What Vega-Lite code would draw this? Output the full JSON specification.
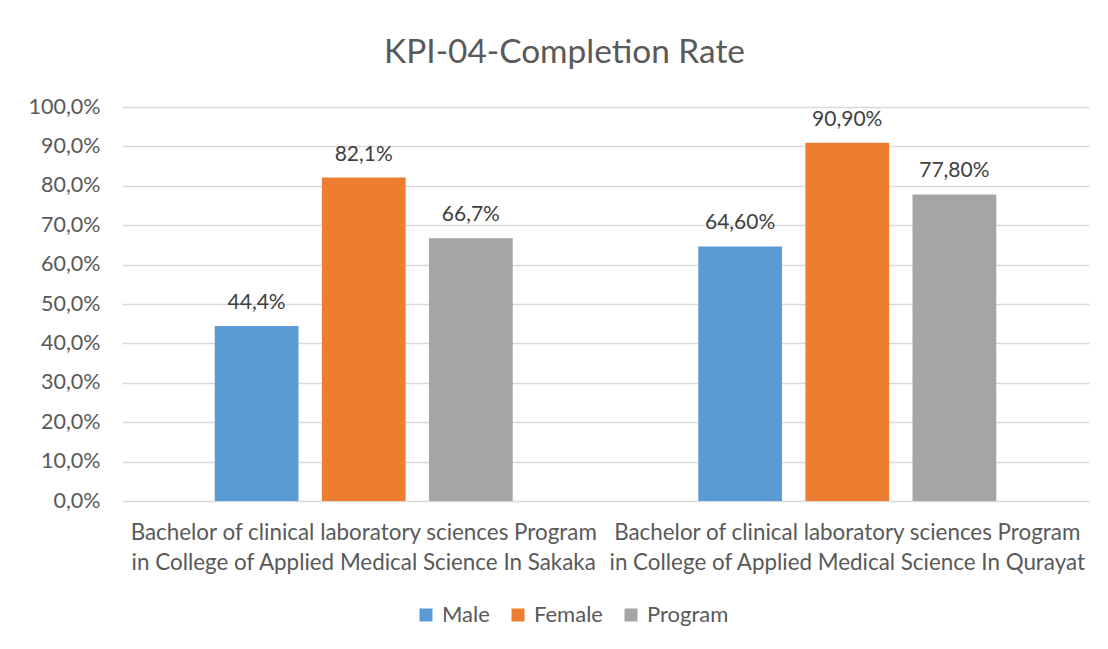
{
  "$schema": "https://vega.github.io/schema/vega-lite/v6.json",
  "width": 967,
  "height": 394,
  "autosize": {"type": "none"},
  "padding": {"left": 122, "top": 107, "right": 19, "bottom": 148},
  "background": "white",
  "title": {
    "text": "KPI-04-Completion Rate",
    "font": "Lato",
    "fontSize": 33.4,
    "fontWeight": "normal",
    "color": "#595959",
    "anchor": "middle",
    "dx": -41,
    "baseline": "alphabetic",
    "offset": 0
  },
  "data": {
    "values": [
      {"program": "Bachelor of clinical laboratory sciences Program in College of Applied Medical Science In Sakaka", "series": "Male", "value": 0.444, "label": "44,4%"},
      {"program": "Bachelor of clinical laboratory sciences Program in College of Applied Medical Science In Sakaka", "series": "Female", "value": 0.821, "label": "82,1%"},
      {"program": "Bachelor of clinical laboratory sciences Program in College of Applied Medical Science In Sakaka", "series": "Program", "value": 0.667, "label": "66,7%"},
      {"program": "Bachelor of clinical laboratory sciences Program in College of Applied Medical Science In Qurayat", "series": "Male", "value": 0.646, "label": "64,60%"},
      {"program": "Bachelor of clinical laboratory sciences Program in College of Applied Medical Science In Qurayat", "series": "Female", "value": 0.909, "label": "90,90%"},
      {"program": "Bachelor of clinical laboratory sciences Program in College of Applied Medical Science In Qurayat", "series": "Program", "value": 0.778, "label": "77,80%"}
    ]
  },
  "encoding": {
    "x": {
      "field": "program",
      "type": "nominal",
      "sort": null,
      "title": null,
      "scale": {"paddingInner": 0.3837, "paddingOuter": 0.1918},
      "axis": {
        "labelAngle": 0,
        "domain": false,
        "ticks": false,
        "labelFont": "Lato",
        "labelFontSize": 22.4,
        "labelColor": "#595959",
        "labelPadding": 20,
        "labelLineHeight": 30,
        "labelBaseline": "top",
        "labelLimit": 0,
        "labelExpr": "[slice(datum.label, 0, indexof(datum.label, ' in College')), slice(datum.label, indexof(datum.label, ' in College') + 1)]"
      }
    },
    "xOffset": {
      "field": "series",
      "type": "nominal",
      "sort": ["Male", "Female", "Program"],
      "scale": {"paddingInner": 0.218, "paddingOuter": 0}
    },
    "y": {
      "field": "value",
      "type": "quantitative",
      "title": null,
      "scale": {"domain": [0, 1], "nice": false},
      "axis": {
        "values": [0, 0.1, 0.2, 0.3, 0.4, 0.5, 0.6, 0.7, 0.8, 0.9, 1.0],
        "labelExpr": "replace(format(datum.value, '.1%'), '.', ',')",
        "domain": false,
        "ticks": false,
        "grid": true,
        "gridColor": "#D9D9D9",
        "gridWidth": 1.3,
        "labelFont": "Lato",
        "labelFontSize": 21.5,
        "labelColor": "#595959",
        "labelPadding": 22
      }
    }
  },
  "layer": [
    {
      "mark": {"type": "bar"},
      "encoding": {
        "color": {
          "field": "series",
          "type": "nominal",
          "sort": ["Male", "Female", "Program"],
          "scale": {"domain": ["Male", "Female", "Program"], "range": ["#5B9BD5", "#ED7D31", "#A5A5A5"]},
          "legend": {
            "title": null,
            "orient": "none",
            "direction": "horizontal",
            "legendX": 293,
            "legendY": 497,
            "symbolType": "square",
            "symbolSize": 169,
            "symbolStrokeWidth": 0,
            "labelFont": "Lato",
            "labelFontSize": 22,
            "labelColor": "#595959",
            "labelOffset": 5,
            "columnPadding": 17
          }
        }
      }
    },
    {
      "mark": {"type": "text", "baseline": "alphabetic", "dy": -17, "font": "Lato", "fontSize": 21, "color": "#404040"},
      "encoding": {
        "text": {"field": "label"}
      }
    }
  ],
  "config": {
    "view": {"stroke": null}
  }
}
